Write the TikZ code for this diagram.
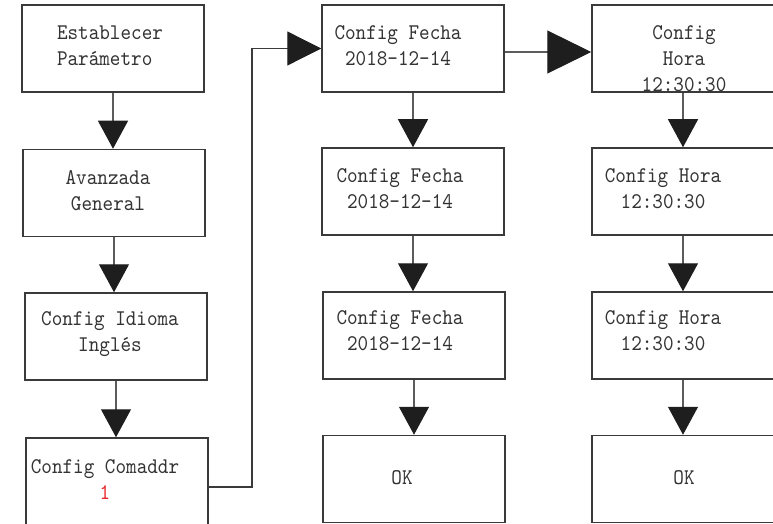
\documentclass[tikz,border=0pt]{standalone}
\usepackage{fontspec}
\newfontfamily\boxfont{lmmono10-regular}[Extension=.otf,FakeStretch=0.9]
\usepackage{tikz}
\usetikzlibrary{arrows.meta}
\usepackage{xcolor}
\definecolor{boxgray}{HTML}{3A3A3A}
\definecolor{linegray}{HTML}{5C5C5C}
\definecolor{tipblack}{HTML}{1E1E1E}
\definecolor{txtgray}{HTML}{333333}
\definecolor{valred}{HTML}{E8262B}

\begin{document}
\begin{tikzpicture}[x=1pt,y=-1pt,>={Triangle[length=28pt,width=30pt,color=tipblack]},font=\boxfont\fontsize{22.4}{26}\selectfont,
  box/.style={draw=boxgray,line width=1.5pt,minimum width=182pt,minimum height=87pt,inner sep=0pt},
  txt/.style={text=txtgray,align=center,inner sep=0pt},
  flow/.style={draw=linegray,line width=1.2pt,->}]
\useasboundingbox (0,0) rectangle (773,524);
\node[box] (l1) at (113,48.5) {};
\node[box] (l2) at (114,193) {};
\node[box] (l3) at (116,336.5) {};
\node[box] (l4) at (117,481.5) {};
\node[box] (m1) at (413,48.5) {};
\node[box] (m2) at (413,191.5) {};
\node[box] (m3) at (414,335.5) {};
\node[box] (m4) at (414,479) {};
\node[box] (r1) at (683,48.5) {};
\node[box] (r2) at (683,191.5) {};
\node[box] (r3) at (683,335.5) {};
\node[box] (r4) at (683,479) {};
\node[txt,align=left] (l1t) at (110,46) {Establecer\\Parámetro};
\node[txt] (l2t) at (108,191) {Avanzada\\General};
\node[txt] (l3t) at (110,334) {Config Idioma\\Inglés};
\node[txt] (l4t) at (105,480) {Config Comaddr\\\textcolor{valred}{1}};
\node[txt] (m1t) at (398,46) {Config Fecha\\2018-12-14};
\node[txt] (m2t) at (400,189) {Config Fecha\\2018-12-14};
\node[txt] (m3t) at (400,331) {Config Fecha\\2018-12-14};
\node[txt] (m4t) at (402,478) {OK};
\node[txt] (r1t) at (684,59) {Config\\Hora\\12:30:30};
\node[txt] (r2t) at (663,189) {Config Hora\\12:30:30};
\node[txt] (r3t) at (663,331) {Config Hora\\12:30:30};
\node[txt] (r4t) at (684,478) {OK};
\draw[flow] (l1.south) -- (l1.south |- l2.north);
\draw[flow] (l2.south) -- (l2.south |- l3.north);
\draw[flow] (l3.south) -- (l3.south |- l4.north);
\draw[flow] (m1.south) -- (m1.south |- m2.north);
\draw[flow] (m2.south) -- (m2.south |- m3.north);
\draw[flow] (m3.south) -- (m3.south |- m4.north);
\draw[flow] (r1.south) -- (r1.south |- r2.north);
\draw[flow] (r2.south) -- (r2.south |- r3.north);
\draw[flow] (r3.south) -- (r3.south |- r4.north);
\coordinate (bend) at (252,487);
\draw[draw=boxgray,line width=1.3pt,-{Triangle[length=34pt,width=34pt,color=tipblack]}] (l4.east |- bend) -- (bend) |- (m1.west);
\draw[flow,-{Triangle[length=44pt,width=43pt,color=tipblack]}] ([yshift=-3.5pt]m1.east) -- ([yshift=-3.5pt]r1.west);
\end{tikzpicture}
\end{document}
